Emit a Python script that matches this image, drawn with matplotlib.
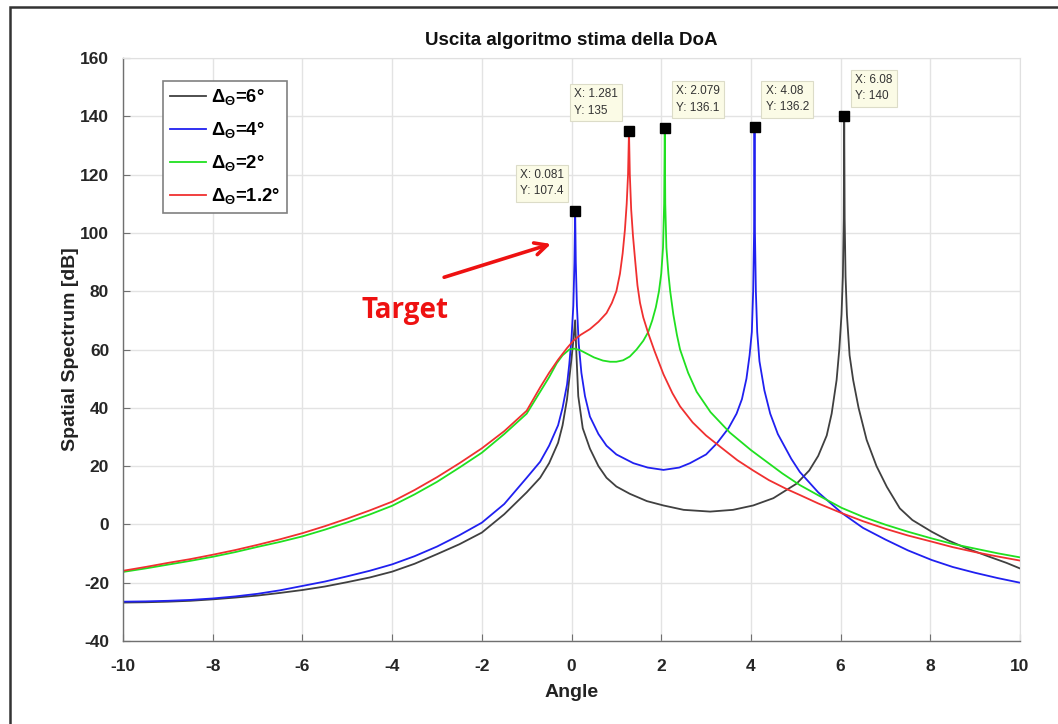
import matplotlib
matplotlib.use("Agg")
import matplotlib.pyplot as plt
from matplotlib.patches import Rectangle

plt.rcParams['font.family'] = ['Liberation Sans', 'DejaVu Sans']
plt.rcParams['mathtext.fontset'] = 'custom'
plt.rcParams['mathtext.rm'] = 'Liberation Sans:bold'
plt.rcParams['mathtext.it'] = 'Liberation Sans:bold'
plt.rcParams['mathtext.bf'] = 'Liberation Sans:bold'
plt.rcParams['axes.unicode_minus'] = False

# ---- data ----
x_6deg = [-10, -9.5, -9, -8.5, -8, -7.5, -7, -6.5, -6, -5.5, -5, -4.5, -4, -3.5, -3, -2.5, -2, -1.5,
          -1, -0.7, -0.5, -0.3, -0.2, -0.1, -0.05, 0.0, 0.04, 0.08, 0.11, 0.15, 0.25, 0.41, 0.6,
          0.78, 1.0, 1.3, 1.68, 2.05, 2.5, 3.09, 3.6, 4.05, 4.5, 5.02, 5.3, 5.5, 5.69, 5.8, 5.91,
          5.97, 6.02, 6.05, 6.07, 6.08, 6.09, 6.11, 6.14, 6.2, 6.28, 6.4, 6.58, 6.8, 7.03, 7.32,
          7.6, 8.03, 8.4, 8.81, 9.3, 9.7, 10]
y_6deg = [-26.8, -26.7, -26.5, -26.2, -25.7, -25.1, -24.4, -23.5, -22.5, -21.3, -19.8, -18.2, -16.2, -13.5, -10.2, -6.8, -2.8, 3.5,
          11, 16, 21, 28, 34, 43, 50, 57, 63, 70, 58, 44, 33, 26, 20,
          16, 13, 10.5, 8, 6.5, 5, 4.4, 5, 6.5, 9, 14, 18.5, 23.5, 30.5, 38, 49.5,
          60, 72, 85, 105, 140, 105, 85, 72, 58, 49.5, 40, 29, 20, 12.9, 5.5,
          1.5, -2.5, -5.5, -8.2, -11, -13.2, -15.1]

x_4deg = [-10, -9.5, -9, -8.5, -8, -7.5, -7, -6.5, -6, -5.5, -5, -4.5, -4, -3.5, -3, -2.5, -2, -1.5,
          -1, -0.7, -0.5, -0.3, -0.2, -0.1, -0.05, 0.0, 0.04, 0.065, 0.081, 0.095, 0.12, 0.16,
          0.22, 0.3, 0.41, 0.6, 0.78, 1.0, 1.38, 1.7, 2.05, 2.4, 2.64, 3.0, 3.24, 3.5, 3.68,
          3.8, 3.9, 3.97, 4.02, 4.05, 4.07, 4.08, 4.09, 4.11, 4.14, 4.19, 4.3, 4.43, 4.6, 4.9,
          5.09, 5.5, 6.02, 6.5, 7.0, 7.5, 8.03, 8.5, 9.0, 9.5, 10]
y_4deg = [-26.5, -26.4, -26.2, -25.9, -25.4, -24.7, -23.8, -22.6, -21.1, -19.6, -17.8, -15.9, -13.7, -10.9, -7.6, -3.7, 0.6, 7,
          16, 21.5, 27, 34, 40, 48, 55, 64, 75, 90, 107.4, 90, 75, 62,
          52, 44, 37, 31, 27, 24, 21, 19.5, 18.7, 19.5, 21, 24, 27.8, 33, 38,
          43, 50, 58, 66, 80, 100, 136.2, 100, 80, 66, 56, 46, 38, 31, 22.5,
          18, 11, 4, -1.2, -5.2, -8.9, -12.2, -14.6, -16.6, -18.4, -20]

x_2deg = [-10, -9.5, -9, -8.5, -8, -7.5, -7, -6.5, -6, -5.5, -5, -4.5, -4, -3.5, -3, -2.5, -2, -1.5,
          -1, -0.7, -0.5, -0.33, -0.2, -0.05, 0.06, 0.2, 0.35, 0.5, 0.7, 0.86, 1.0, 1.15, 1.3,
          1.45, 1.6, 1.71, 1.8, 1.88, 1.95, 2.0, 2.04, 2.065, 2.079, 2.09, 2.115, 2.16, 2.2,
          2.27, 2.35, 2.42, 2.6, 2.79, 3.1, 3.53, 4.0, 4.35, 4.7, 5.09, 5.5, 6.02, 6.5, 7.0,
          7.5, 8.03, 8.5, 9.0, 9.5, 10]
y_2deg = [-16.3, -15.1, -13.8, -12.5, -11.1, -9.5, -7.7, -6.0, -4.1, -1.8, 0.7, 3.4, 6.4, 10.3, 14.6, 19.5, 24.6, 31,
          38, 45.5, 50.5, 55.3, 58, 60, 60.3, 59.7, 58.5, 57.3, 56.2, 55.8, 55.8, 56.3, 57.6,
          60, 63, 66, 70, 74.5, 80, 86, 95, 110, 136.1, 110, 95, 86, 80,
          72, 65, 60, 52, 45.5, 38.5, 31.5, 25.5, 21.5, 17.5, 13.5, 10, 5.7, 2.6, -0.1,
          -2.5, -4.8, -6.7, -8.3, -9.9, -11.3]

x_1p2deg = [-10, -9.5, -9, -8.5, -8, -7.5, -7, -6.5, -6, -5.5, -5, -4.5, -4, -3.5, -3, -2.5, -2, -1.5,
            -1, -0.7, -0.5, -0.3, -0.1, 0.04, 0.2, 0.41, 0.6, 0.78, 0.9, 1.0, 1.08, 1.14, 1.19,
            1.23, 1.26, 1.281, 1.3, 1.33, 1.37, 1.416, 1.47, 1.527, 1.6, 1.71, 1.85, 2.05, 2.25,
            2.42, 2.7, 3.0, 3.31, 3.7, 4.05, 4.4, 4.8, 5.09, 5.5, 6.02, 6.5, 7.0, 7.5, 8.03, 8.5,
            9.0, 9.5, 10]
y_1p2deg = [-15.9, -14.6, -13.2, -11.9, -10.4, -8.8, -7.0, -5.1, -3.0, -0.6, 2.0, 4.8, 7.8, 11.8, 16.2, 21.0, 26.1, 32,
            39, 47, 52, 56.5, 60.5, 63, 65, 67, 69.5, 72.5, 76, 80, 86, 93, 101,
            110, 120, 135, 120, 108, 99, 91, 82, 76, 71, 65.6, 59.5, 51.5, 45,
            40.5, 35, 30.5, 26.7, 22, 18.5, 15.2, 12.1, 10.1, 7.2, 3.9, 1.1, -1.5, -3.8, -5.9, -7.8,
            -9.5, -11, -12.4]

series_labels = [r'$\Delta_{\Theta}$=6°', r'$\Delta_{\Theta}$=4°', r'$\Delta_{\Theta}$=2°', r'$\Delta_{\Theta}$=1.2°']
series_colors = ['#404040', '#2020f0', '#20e020', '#f03030']

tip_x = [0.081, 1.281, 2.079, 4.08, 6.08]
tip_y = [107.4, 135, 136.1, 136.2, 140]
tip_text = ['X: 0.081\nY: 107.4', 'X: 1.281\nY: 135', 'X: 2.079\nY: 136.1', 'X: 4.08\nY: 136.2', 'X: 6.08\nY: 140']

x_ticks = [-10, -8, -6, -4, -2, 0, 2, 4, 6, 8, 10]
y_ticks = [-40, -20, 0, 20, 40, 60, 80, 100, 120, 140, 160]

# ---- figure ----
fig = plt.figure(figsize=(10.58, 7.24), dpi=100)
ax = fig.add_axes([0.1163, 0.1146, 0.8478, 0.8053])

xs = [x_6deg, x_4deg, x_2deg, x_1p2deg]
ys = [y_6deg, y_4deg, y_2deg, y_1p2deg]
for xv, yv, lab, col in zip(xs, ys, series_labels, series_colors):
    ax.plot(xv, yv, color=col, lw=1.3, label=lab, solid_joinstyle='round')

ax.set_xlim(-10, 10)
ax.set_ylim(-40, 160)
ax.set_xticks(x_ticks)
ax.set_yticks(y_ticks)
ax.grid(True, color='#e3e3e3', lw=1.0)
ax.set_axisbelow(True)
for s in ['left', 'bottom']:
    ax.spines[s].set_color('#707070')
    ax.spines[s].set_linewidth(1.0)
for s in ['top', 'right']:
    ax.spines[s].set_color('#e0e0e0')
ax.tick_params(direction='in', length=5, color='#707070', labelsize=12.5)
ax.tick_params(axis='x', pad=13)
ax.tick_params(axis='y', pad=10)
for lbl in ax.get_xticklabels() + ax.get_yticklabels():
    lbl.set_fontweight('bold')
    lbl.set_color('#262626')

ax.set_title('Uscita algoritmo stima della DoA', fontsize=13.5, fontweight='bold', pad=9, color='#111111')
ax.set_xlabel('Angle', fontsize=14, fontweight='bold', labelpad=7, color='#222222')
ax.set_ylabel('Spatial Spectrum [dB]', fontsize=14, fontweight='bold', labelpad=0.5, color='#222222')

leg = ax.legend(loc='upper left', bbox_to_anchor=(0.0446, 0.9605), borderaxespad=0, handlelength=1.95,
                prop={'weight': 'bold', 'size': 13.3}, fancybox=False, framealpha=1,
                edgecolor='#808080', borderpad=0.35, labelspacing=0.7, handletextpad=0.3)
leg.get_frame().set_linewidth(1.2)

# data tips
offsets = [(-8, 10, 'right'), (-8, 10, 'right'), (8, 10, 'left'), (8, 10, 'left'), (8, 10, 'left')]
for tx, ty, tt, (dx, dy, ha) in zip(tip_x, tip_y, tip_text, offsets):
    ax.plot([tx], [ty], marker='s', ms=6.5, color='black', zorder=5, clip_on=False)
    ax.annotate(tt, xy=(tx, ty), xytext=(dx, dy), textcoords='offset points', ha=ha, va='bottom',
                multialignment='left', fontsize=8.5, color='#333333', linespacing=1.5,
                bbox=dict(boxstyle='square,pad=0.35', fc='#fbfbe6', ec='#dcdcc8', lw=0.8), zorder=6)

# Target annotation
ax.annotate('', xy=(-0.4, 96.5), xytext=(-2.9, 84.5),
            arrowprops=dict(arrowstyle='->', color='#ee1111', lw=2.6, mutation_scale=22))
ax.text(-3.71, 73.5, 'Target', color='#ee1111', fontsize=20, fontweight='bold', ha='center', va='center',
        family=['Open Sans', 'DejaVu Sans'])

# outer frame
fig.patches.append(Rectangle((10 / 1058, -0.1), 1.2, 1.1 - 7 / 724,
                             transform=fig.transFigure, fill=False, ec='#333333', lw=1.8))

fig.savefig('out.png', dpi=100)
